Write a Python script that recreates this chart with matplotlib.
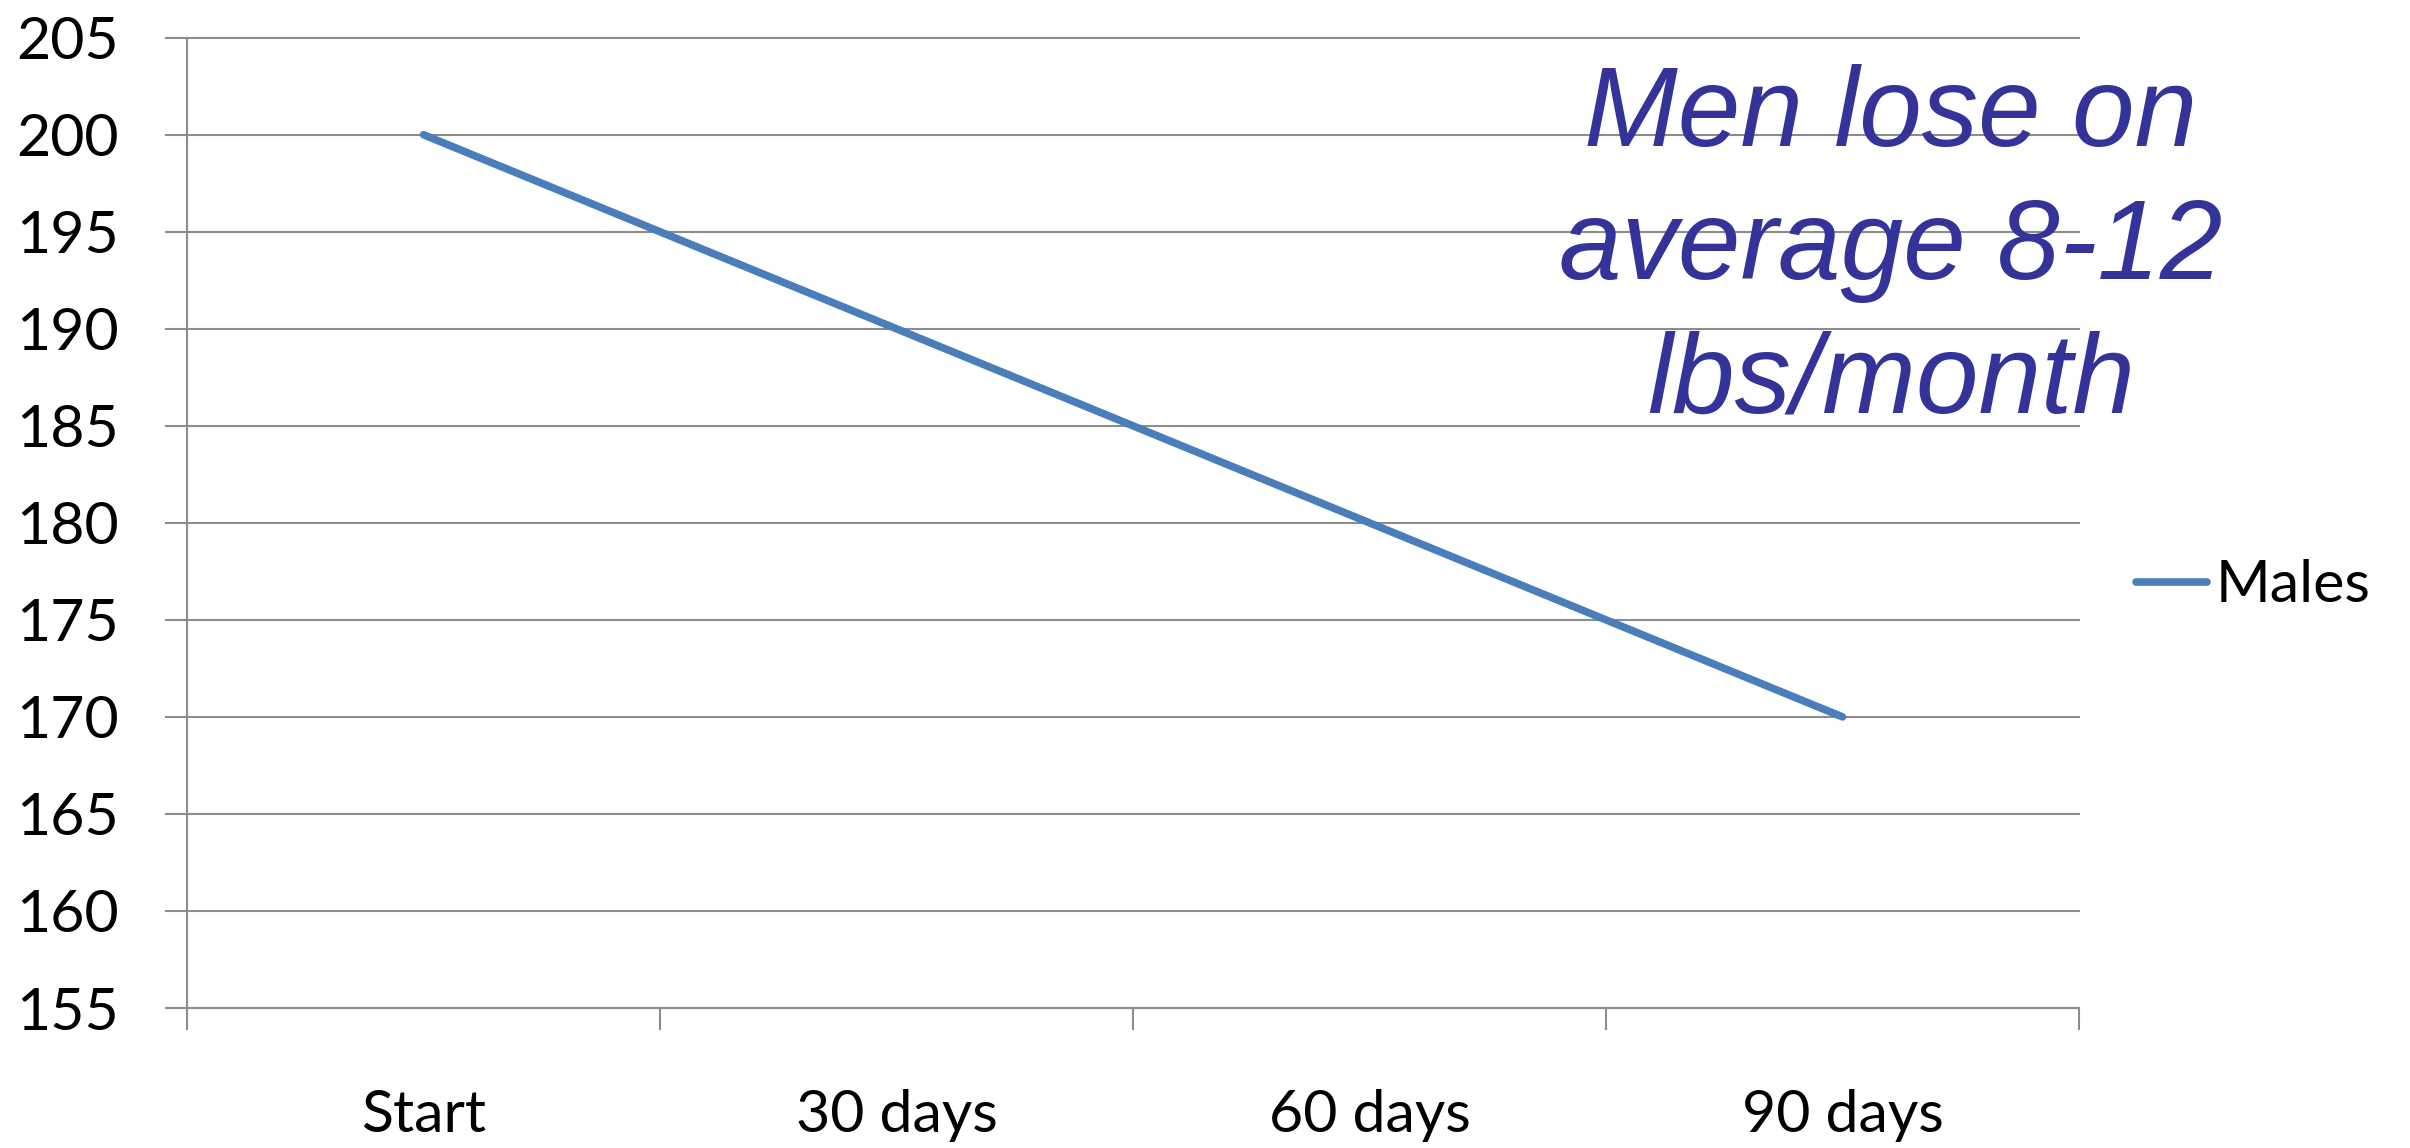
import matplotlib
matplotlib.use("Agg")
import matplotlib.pyplot as plt

categories = ["Start", "30 days", "60 days", "90 days"]
males = [200, 190, 180, 170]
series_name = "Males"
y_ticks = list(range(155, 206, 5))
note_lines = ["Men lose on", "average 8-12", "lbs/month"]

grid_c = "#8c8c8c"
line_c = "#4a7ebb"
note_c = "#333399"

fig = plt.figure(figsize=(24.10, 11.48), dpi=100)
ax = fig.add_axes([187/2410, 1 - 1008/1148, (2079-187)/2410, (1008-37.7)/1148])

x = list(range(len(categories)))
ax.plot(x, males, color=line_c, lw=5.5, solid_capstyle="round", label=series_name, zorder=3)

ax.set_xlim(-0.5, len(categories) - 0.5)
ax.set_ylim(155, 205)
ax.set_yticks(y_ticks)
ax.set_yticklabels([str(v) for v in y_ticks])
ax.yaxis.grid(True, color=grid_c, lw=1.5)
for gl in ax.get_ygridlines():
    gl.set_clip_on(False)
ax.set_axisbelow(True)

ax.set_xticks(x)
ax.set_xticklabels(categories)
ax.set_xticks([i - 0.5 for i in range(len(categories) + 1)], minor=True)
ax.tick_params(axis="x", which="major", length=0, pad=58)
ax.tick_params(axis="x", which="minor", length=16, width=1.5, color=grid_c, direction="out")
ax.tick_params(axis="y", which="major", length=16, width=1.5, color=grid_c, direction="out", pad=33)

for lab in ax.get_xticklabels() + ax.get_yticklabels():
    lab.set_fontfamily("Lato")
    lab.set_fontsize(42.5)
    lab.set_color("black")

for s in ["top", "right"]:
    ax.spines[s].set_visible(False)
for s in ["left", "bottom"]:
    ax.spines[s].set_color(grid_c)
    ax.spines[s].set_linewidth(1.5)

leg = fig.legend(loc="center left", bbox_to_anchor=(2136/2410, 1 - 586/1148), frameon=False,
                 borderpad=0, borderaxespad=0, handlelength=1.2, handletextpad=0.15,
                 prop={"family": "Lato", "size": 42.5})

baselines = [146, 279, 413]
for txt, yb in zip(note_lines, baselines):
    fig.text(1891/2410, 1 - yb/1148, txt, ha="center", va="baseline",
             fontsize=81, style="italic", family="Liberation Sans", color=note_c)

fig.savefig("out.png", dpi=100)
